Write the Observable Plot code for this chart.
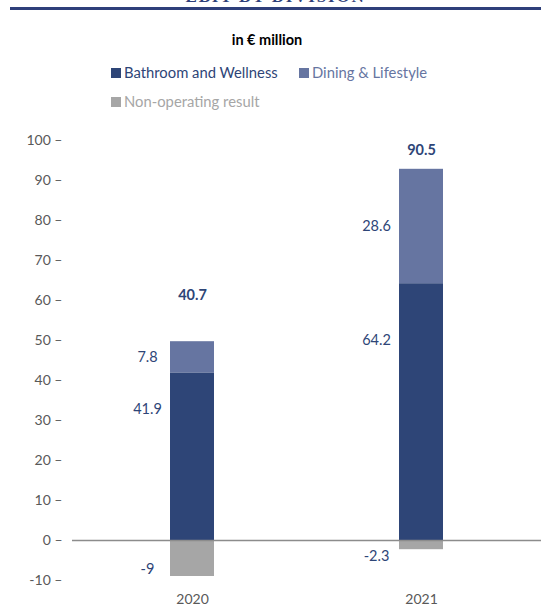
<!DOCTYPE html>
<html>
<head>
<meta charset="utf-8">
<script src="https://cdn.jsdelivr.net/npm/d3@7"></script>
<script src="https://cdn.jsdelivr.net/npm/@observablehq/plot@0.6"></script>
<style>
  html, body { margin: 0; padding: 0; background: #fff; }
  #page { position: relative; width: 541px; height: 609px; overflow: hidden; font-family: Lato, "Open Sans", sans-serif; }
  #title { position: absolute; top: -12.5px; left: 10px; right: 0; text-align: center; font: bold 17px "Liberation Serif", serif; color: #2E3F7A; letter-spacing: 1.8px; line-height: 18px; }
  #rule { position: absolute; top: 7px; left: 10px; width: 531px; height: 3px; background: #2E3F7A; }
  #unit { position: absolute; top: 31px; left: 0; width: 534px; text-align: center; font-weight: bold; font-size: 14.5px; line-height: 18px; color: #000; }
  .leg { position: absolute; font-size: 14.8px; line-height: 18px; white-space: nowrap; }
  .sw { display: inline-block; width: 10px; height: 10px; margin-right: 3px; vertical-align: 0px; }
  #chart { position: absolute; top: 120px; left: 0; }
</style>
</head>
<body>
<div id="page">
  <div id="title">EBIT BY DIVISION</div>
  <div id="rule"></div>
  <div id="unit">in € million</div>
  <div id="legend"></div>
  <div id="chart"></div>
</div>
<script>
const years = ["2020", "2021"];
const seriesNames = ["Bathroom and Wellness", "Dining & Lifestyle", "Non-operating result"];
const seriesColors = ["#2E4577", "#6675A1", "#A6A6A6"];
const bathroom = [41.9, 64.2];
const dining = [7.8, 28.6];
const nonOperating = [-9, -2.3];
const totals = [40.7, 90.5];
const yTicks = [-10, 0, 10, 20, 30, 40, 50, 60, 70, 80, 90, 100];

// legend
const legendPos = [[111, 63], [299, 63], [111, 92]];
const legend = document.getElementById("legend");
seriesNames.forEach((name, i) => {
  const d = document.createElement("div");
  d.className = "leg";
  d.style.left = legendPos[i][0] + "px";
  d.style.top = legendPos[i][1] + "px";
  d.style.color = seriesColors[i];
  d.innerHTML = `<span class="sw" style="background:${seriesColors[i]}"></span>`;
  d.appendChild(document.createTextNode(name));
  legend.appendChild(d);
});

const rows = years.flatMap((year, i) => [
  {year, series: seriesNames[0], value: bathroom[i]},
  {year, series: seriesNames[1], value: dining[i]},
  {year, series: seriesNames[2], value: nonOperating[i]}
]);

const segLabels = years.flatMap((year, i) => [
  {year, text: String(bathroom[i]), y: bathroom[i] * 0.78},
  {year, text: String(dining[i]), y: bathroom[i] + dining[i] / 2},
  {year, text: String(nonOperating[i]), y: nonOperating[i] / 2 - 2.75}
]);

const totalLabels = years.map((year, i) => ({
  year, text: totals[i].toFixed(1), y: bathroom[i] + dining[i] - nonOperating[i] + 2.5
}));

const chart = Plot.plot({
  width: 541,
  height: 489,
  marginLeft: 72,
  marginRight: 0,
  marginTop: 20,
  marginBottom: 29,
  style: {fontFamily: "Lato, 'Open Sans', sans-serif", color: "#595959", background: "transparent"},
  x: {domain: years, paddingInner: 0.808, paddingOuter: 0.428, label: null},
  y: {domain: [-10, 100], label: null},
  color: {domain: seriesNames, range: seriesColors},
  marks: [
    Plot.barY(rows, {x: "year", y: "value", fill: "series", order: seriesNames}),
    Plot.ruleY([0], {stroke: "#8C8C8C", strokeWidth: 1.5}),
    Plot.axisY({ticks: yTicks, tickSize: 0, tickPadding: 10, tickFormat: d => `${d} –`, fontSize: 14, label: null}),
    Plot.axisX({tickSize: 0, tickPadding: 14, fontSize: 14, label: null}),
    Plot.text(segLabels, {x: "year", y: "y", text: "text", dx: -45, fill: "#2E4577", fontSize: 14.5}),
    Plot.text(totalLabels, {x: "year", y: "y", text: "text", fill: "#2E4577", fontSize: 14.5, fontWeight: "bold"})
  ]
});
document.getElementById("chart").appendChild(chart);
</script>
</body>
</html>
